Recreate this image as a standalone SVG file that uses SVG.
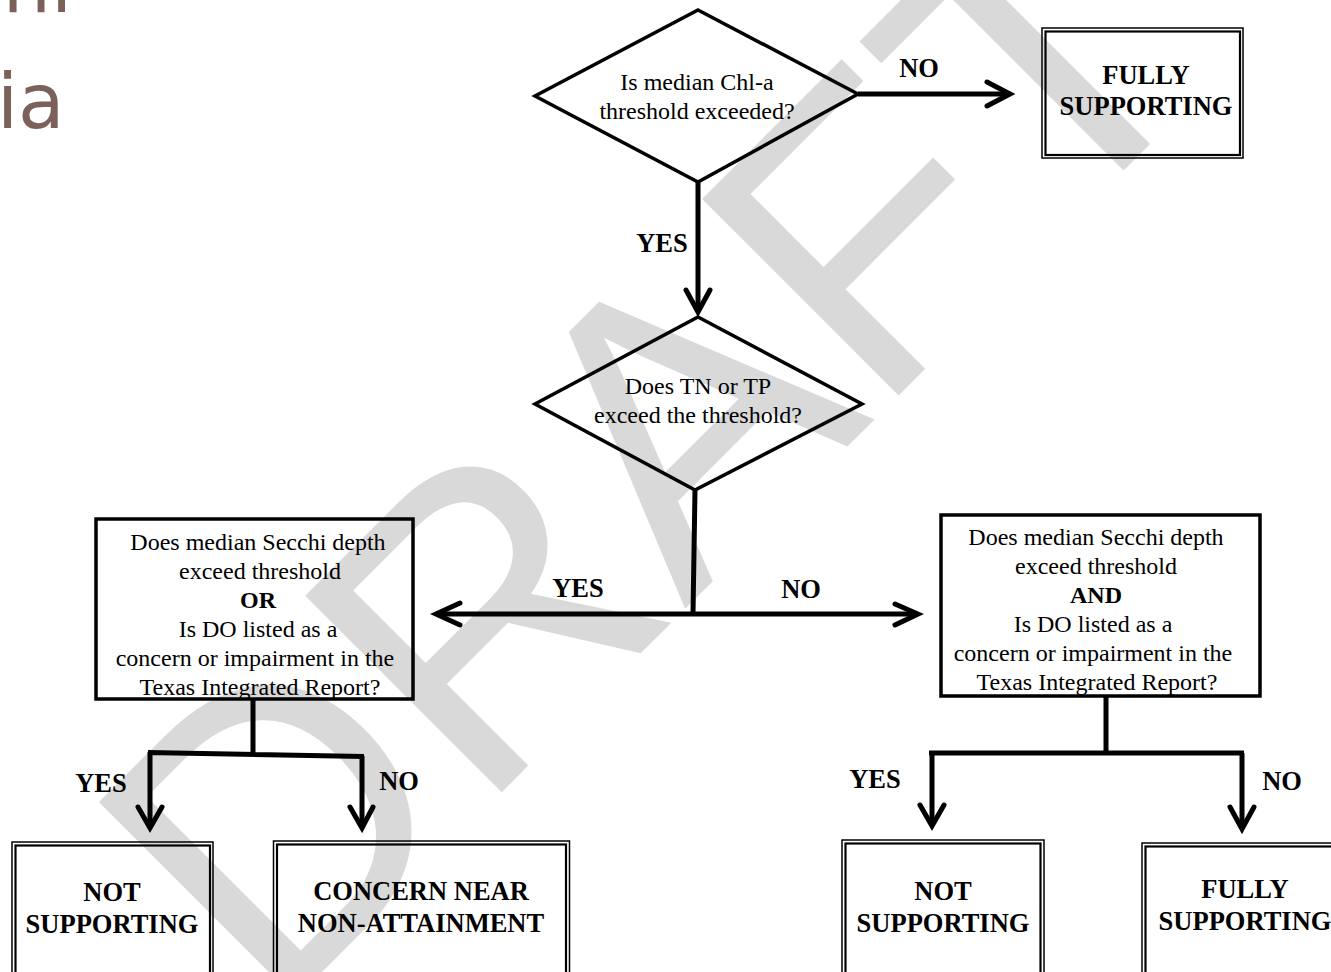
<svg xmlns="http://www.w3.org/2000/svg" width="1331" height="972" viewBox="0 0 1331 972">
<style>
.wm{font-family:"Liberation Sans",Arial,sans-serif;font-size:404px;fill:#d9d9d9}
.corner{font-family:"DejaVu Sans",sans-serif;font-size:76px;fill:#7b6159}
.shape{fill:none;stroke:#000;stroke-width:3.5;stroke-linejoin:miter}
.outer{fill:none;stroke:#000;stroke-width:1.5}
.inner{fill:none;stroke:#000;stroke-width:2.2}
.line{fill:none;stroke:#000;stroke-width:5;stroke-linecap:butt}
.head{fill:none;stroke:#000;stroke-width:5;stroke-linecap:round;stroke-linejoin:miter}
.t{font-family:"Liberation Serif","Times New Roman",serif;font-size:24px;fill:#000;text-anchor:middle}
.b{font-family:"Liberation Serif","Times New Roman",serif;font-size:26.5px;font-weight:bold;fill:#000;text-anchor:middle}
.bt{font-weight:bold}
</style>
<rect width="1331" height="972" fill="#fff"/>
<text class="wm" transform="translate(272,1022) rotate(-45)">DRAFT</text>
<text class="corner" x="72" y="12" text-anchor="end">chi</text>
<text class="corner" x="-3" y="128">ia</text>

<g id="connectors">
<path class="line" d="M698,182 V311"/>
<polyline class="head" points="686,290 698,312 710,290"/>
<text class="b" x="662" y="252">YES</text>
<path class="line" d="M858,94 H1009"/>
<polyline class="head" points="987,82 1010,94 987,106"/>
<text class="b" x="919" y="77">NO</text>
<path class="line" d="M695,490 L693,614 M438,614 H917"/>
<polyline class="head" points="460,603 436,614 460,625"/>
<polyline class="head" points="895,604 918,614 895,625"/>
<text class="b" x="578" y="597">YES</text>
<text class="b" x="801" y="598">NO</text>
<path class="line" d="M253,699 V753 M148,752.5 L364,756.5 M150,752 V826 M362,756 V826"/>
<polyline class="head" points="138,807 150,828 162,807"/>
<polyline class="head" points="350,807 362,828 373,807"/>
<text class="b" x="101" y="792">YES</text>
<text class="b" x="399" y="790">NO</text>
<path class="line" d="M1106,696 V753 M929,753 H1244 M932,753 V826 M1242,753 V828"/>
<polyline class="head" points="920,805 932,826 944,805"/>
<polyline class="head" points="1230,807 1242,829 1254,807"/>
<text class="b" x="875" y="788">YES</text>
<text class="b" x="1282" y="790">NO</text>
</g>

<g id="d1">
<polygon class="shape" points="698,10 858,94 698,182 535,96"/>
<text class="t" x="697" y="90">Is median Chl-a</text>
<text class="t" x="697" y="119">threshold exceeded?</text>
</g>
<g id="fully-top">
<rect class="outer" x="1042" y="28" width="201" height="130"/>
<rect class="inner" x="1045.5" y="31.5" width="194.5" height="123.5"/>
<text class="b" x="1146" y="84">FULLY</text>
<text class="b" x="1146" y="115">SUPPORTING</text>
</g>
<g id="d2">
<polygon class="shape" points="698,317 862,404 695,490 535,404"/>
<text class="t" x="698" y="394">Does TN or TP</text>
<text class="t" x="698" y="423">exceed the threshold?</text>
</g>
<g id="q-or">
<rect class="shape" x="96" y="519" width="317" height="180"/>
<text class="t" x="258" y="550">Does median Secchi depth</text>
<text class="t" x="260" y="579">exceed threshold</text>
<text class="t bt" x="258" y="608">OR</text>
<text class="t" x="258" y="637">Is DO listed as a</text>
<text class="t" x="255" y="666">concern or impairment in the</text>
<text class="t" x="260" y="695">Texas Integrated Report?</text>
</g>
<g id="q-and">
<rect class="shape" x="941" y="515" width="319" height="181"/>
<text class="t" x="1096" y="545">Does median Secchi depth</text>
<text class="t" x="1096" y="574">exceed threshold</text>
<text class="t bt" x="1096" y="603">AND</text>
<text class="t" x="1093" y="632">Is DO listed as a</text>
<text class="t" x="1093" y="661">concern or impairment in the</text>
<text class="t" x="1097" y="690">Texas Integrated Report?</text>
</g>
<g id="not-left">
<rect class="outer" x="12" y="842" width="201" height="150"/>
<rect class="inner" x="15.5" y="845.5" width="194.5" height="150"/>
<text class="b" x="112" y="901">NOT</text>
<text class="b" x="112" y="933">SUPPORTING</text>
</g>
<g id="concern">
<rect class="outer" x="273.5" y="841" width="296" height="150"/>
<rect class="inner" x="277" y="844.5" width="289" height="150"/>
<text class="b" x="421" y="900">CONCERN NEAR</text>
<text class="b" x="421" y="932">NON-ATTAINMENT</text>
</g>
<g id="not-right">
<rect class="outer" x="842" y="840" width="202" height="150"/>
<rect class="inner" x="845.5" y="843.5" width="195" height="150"/>
<text class="b" x="943" y="900">NOT</text>
<text class="b" x="943" y="932">SUPPORTING</text>
</g>
<g id="fully-bottom">
<rect class="outer" x="1142" y="843" width="210" height="150"/>
<rect class="inner" x="1145.5" y="846.5" width="210" height="150"/>
<text class="b" x="1245" y="898">FULLY</text>
<text class="b" x="1245" y="930">SUPPORTING</text>
</g>
</svg>
